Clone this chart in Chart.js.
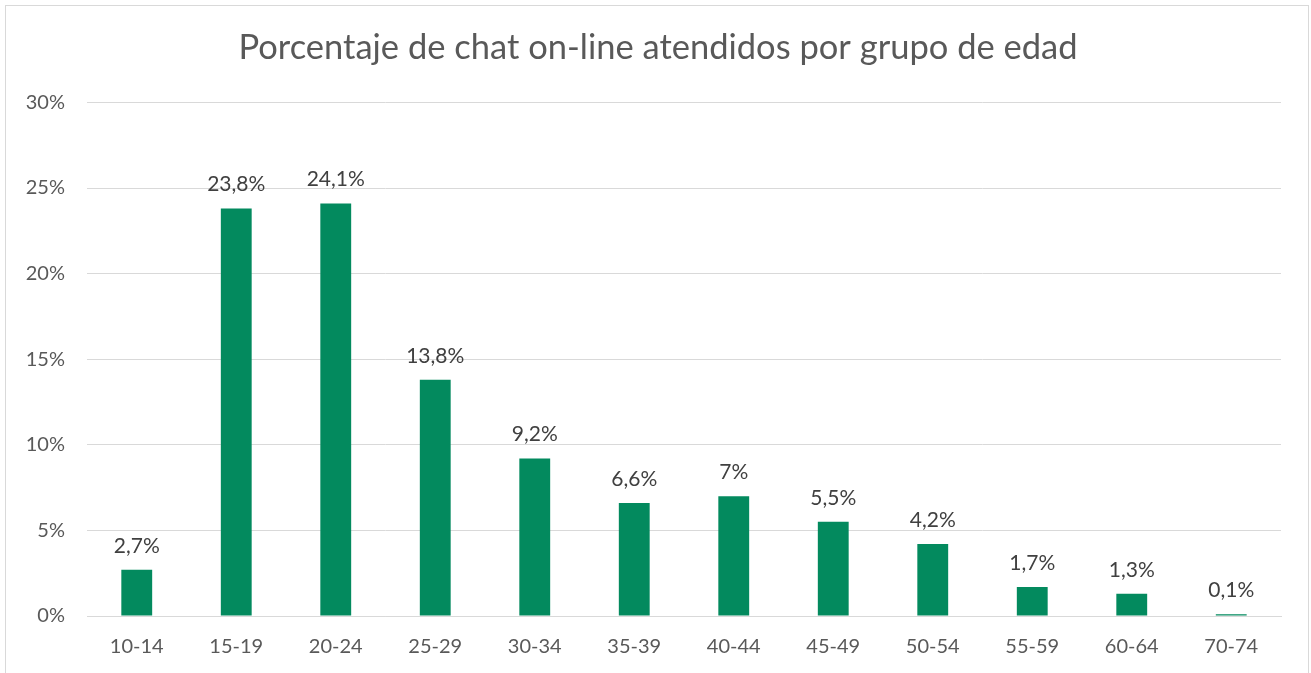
<!DOCTYPE html>
<html>
<head>
<meta charset="utf-8">
<script src="https://cdn.jsdelivr.net/npm/chart.js@4"></script>
<style>
  html, body { margin: 0; padding: 0; background: #fff; }
  #wrap { width: 1311px; height: 673px; }
</style>
</head>
<body>
<div id="wrap"><canvas id="edadChart" width="1311" height="673"></canvas></div>
<script>
// Age groups and share of chats attended (%)
const ageGroups = ['10-14', '15-19', '20-24', '25-29', '30-34', '35-39', '40-44', '45-49', '50-54', '55-59', '60-64', '70-74'];
const percentages = [2.7, 23.8, 24.1, 13.8, 9.2, 6.6, 7, 5.5, 4.2, 1.7, 1.3, 0.1];
const yTicks = [0, 5, 10, 15, 20, 25, 30];

const FONT = 'Lato, "Open Sans", sans-serif';

// value labels above each bar, e.g. "23,8%"
const barLabels = {
  id: 'barLabels',
  afterDatasetsDraw(chart) {
    const c = chart.ctx;
    const meta = chart.getDatasetMeta(0);
    c.save();
    c.font = '21px ' + FONT;
    c.fillStyle = '#404040';
    c.textAlign = 'center';
    c.textBaseline = 'middle';
    meta.data.forEach((bar, i) => {
      const txt = String(percentages[i]).replace('.', ',') + '%';
      c.fillText(txt, bar.x, bar.y - 24);
    });
    c.restore();
  }
};

// thin frame round the chart like the spreadsheet export,
// and centre the title on the whole frame rather than the padded box
const frame = {
  id: 'frame',
  afterLayout(chart) {
    if (chart.titleBlock) {
      chart.titleBlock.left = 7;
      chart.titleBlock.right = 1309;
    }
  },
  beforeDraw(chart) {
    const c = chart.ctx;
    c.save();
    c.fillStyle = '#fff';
    c.fillRect(0, 0, chart.width, chart.height);
    c.strokeStyle = '#d9d9d9';
    c.lineWidth = 1;
    c.strokeRect(5.5, 5.5, 1303, 700);
    c.restore();
  }
};

new Chart(document.getElementById('edadChart'), {
  type: 'bar',
  data: {
    labels: ageGroups,
    datasets: [{
      data: percentages,
      backgroundColor: '#038a5e',
      categoryPercentage: 1,
      barPercentage: 0.31
    }]
  },
  options: {
    responsive: false,
    animation: false,
    layout: { padding: { left: 0, right: 30, top: 0, bottom: 0 } },
    plugins: {
      legend: { display: false },
      tooltip: { enabled: false },
      title: {
        display: true,
        text: 'Porcentaje de chat on-line atendidos por grupo de edad',
        color: '#595959',
        font: { family: FONT, size: 34.5, weight: 'normal' },
        padding: { top: 27, bottom: 34 }
      }
    },
    scales: {
      x: {
        grid: { display: false, drawTicks: false },
        border: { color: '#d9d9d9', width: 1 },
        ticks: { color: '#595959', font: { family: FONT, size: 20 }, padding: 19 },
        afterFit(scale) { scale.height = 57; }
      },
      y: {
        min: 0,
        max: 30,
        afterBuildTicks(scale) { scale.ticks = yTicks.map(v => ({ value: v })); },
        grid: { color: '#d9d9d9', drawTicks: false },
        border: { display: false },
        ticks: {
          color: '#595959',
          font: { family: FONT, size: 20 },
          padding: 22,
          callback: v => v + '%'
        },
        afterFit(scale) { scale.width = 87; }
      }
    }
  },
  plugins: [frame, barLabels]
});
</script>
</body>
</html>
